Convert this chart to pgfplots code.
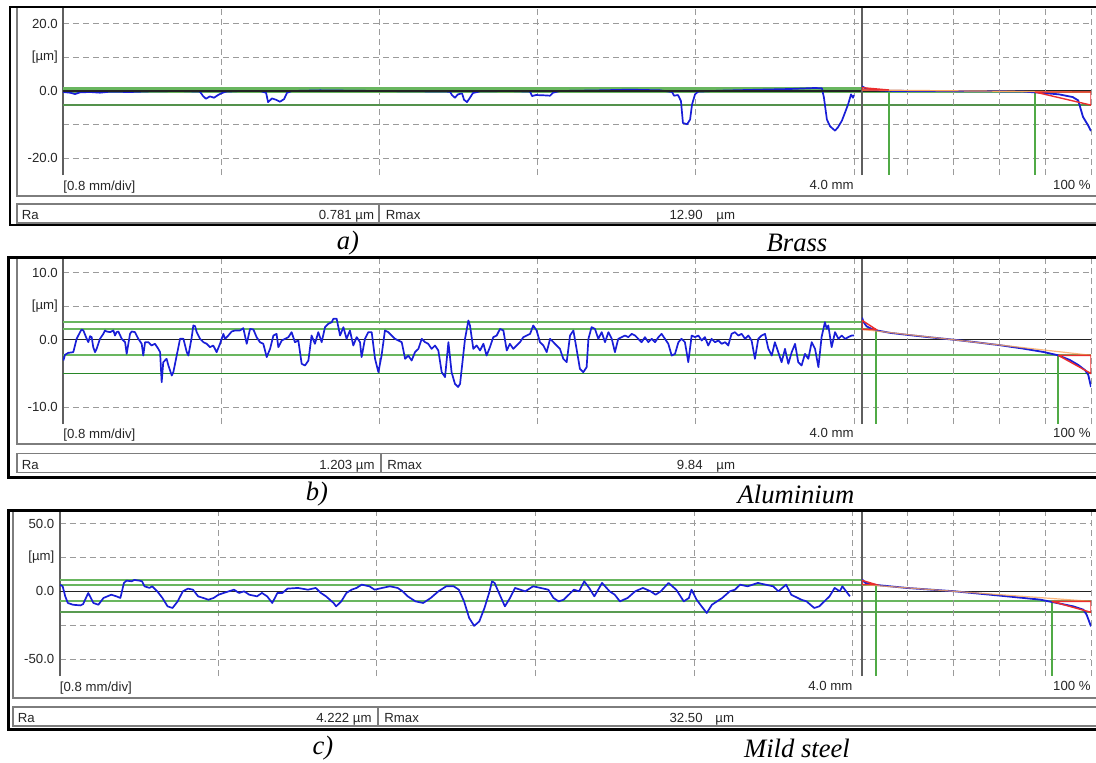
\documentclass[border=0pt]{standalone}
\usepackage{fontspec}
\setmainfont{Liberation Sans}
\newfontfamily\capfont{Liberation Serif}
\usepackage{pgfplots}
\pgfplotsset{compat=1.18}
\definecolor{pblue}{RGB}{25,30,215}
\definecolor{glight}{RGB}{105,182,95}
\definecolor{gvert}{RGB}{80,170,70}
\definecolor{gdark}{RGB}{40,135,40}
\definecolor{gridc}{RGB}{155,155,155}
\definecolor{axc}{RGB}{95,95,95}
\definecolor{boxc}{RGB}{125,125,125}
\definecolor{redc}{RGB}{235,45,45}
\definecolor{orc}{RGB}{250,165,90}
\definecolor{zeroc}{RGB}{35,35,35}
\pgfplotsset{
  baseax/.style={scale only axis, anchor=south west,
    axis y line*=left, axis x line*=bottom,
    x axis line style={draw=none},
    y axis line style={draw=axc,line width=1pt,-},
    xmajorgrids, major tick length=0pt,
    major grid style={draw=gridc,line width=0.5pt,dash pattern=on 3pt off 2pt},
    xticklabels={}, clip=true},
  profax/.style={baseax, ymajorgrids, xmin=0,
    xtick={0.8,1.6,2.4,3.2,4.0},
    yticklabel style={font=\fontsize{6.6}{7}\selectfont,text=black!85,inner sep=0pt,xshift=-2.4pt}},
  bearax/.style={baseax, xmin=0, xmax=100, xtick={20,40,60,80,100}, ytick=\empty},
}
\begin{document}
\begin{tikzpicture}
\useasboundingbox (0,0) rectangle (548pt,-381pt);
% ================= Panel a (Brass) =================
\begin{axis}[profax, at={(31.5pt,-87.5pt)}, width=514pt, height=84pt,
  xmax=5.1985, ymin=-25, ymax=25, ytick={-20,-10,0,10,20},
  yticklabels={-20.0,,0.0,[µm],20.0}]
\addplot[glight,line width=1pt] coordinates {(0,0.8) (4.0405,0.8)};
\addplot[glight,line width=1pt] coordinates {(0,0.3) (4.0405,0.3)};
\addplot[glight,line width=0.8pt] coordinates {(0,-0.3) (5.1985,-0.3)};
\addplot[glight!80!black,line width=0.7pt] coordinates {(0,-4.2) (5.1985,-4.2)};
\addplot[pblue,line width=0.85pt,line join=round] table[row sep=\\] {
x y\\
0.000 -0.3\\ 0.035 -0.5\\ 0.061 -0.9\\ 0.086 -0.4\\ 0.137 -0.3\\ 0.187 -0.5\\
0.238 -0.2\\ 0.339 -0.3\\ 0.440 -0.1\\ 0.592 0.0\\ 0.693 -0.2\\ 0.708 -1.5\\
0.723 -2.3\\ 0.743 -1.6\\ 0.764 -2.0\\ 0.784 -1.2\\ 0.804 -0.6\\ 0.824 -0.2\\
0.895 0.0\\ 0.996 0.0\\ 1.027 -0.5\\ 1.037 -3.3\\ 1.057 -2.2\\ 1.077 -2.6\\
1.097 -3.2\\ 1.118 -2.4\\ 1.133 -0.5\\ 1.158 0.0\\ 1.300 0.2\\ 1.451 0.1\\
1.603 0.0\\ 1.805 -0.1\\ 1.957 -0.2\\ 1.967 -1.2\\ 1.982 -2.0\\ 1.997 -1.0\\
2.018 -0.7\\ 2.028 -2.6\\ 2.043 -3.3\\ 2.058 -2.0\\ 2.073 -0.6\\ 2.109 -0.1\\
2.260 0.0\\ 2.362 -0.2\\ 2.372 -1.5\\ 2.392 -1.2\\ 2.437 -1.3\\ 2.463 -1.4\\
2.478 -0.5\\ 2.513 0.0\\ 2.716 0.2\\ 2.867 0.4\\ 3.019 0.2\\ 3.080 -0.3\\
3.090 -1.4\\ 3.110 -1.2\\ 3.125 -3.0\\ 3.135 -9.5\\ 3.156 -9.9\\ 3.171 -8.5\\
3.181 -4.0\\ 3.196 -1.0\\ 3.211 -0.2\\ 3.322 0.1\\ 3.525 0.4\\ 3.676 0.6\\
3.803 0.9\\ 3.838 0.8\\ 3.848 -2.0\\ 3.863 -8.5\\ 3.879 -10.5\\ 3.904 -11.8\\
3.919 -10.8\\ 3.939 -8.8\\ 3.954 -6.5\\ 3.970 -4.0\\ 3.985 -1.0\\ 3.995 -2.0\\
4.000 -1.2\\
};
\addplot[zeroc,line width=0.6pt] coordinates {(0,0) (5.1985,0)};
\end{axis}
\begin{axis}[bearax, at={(431pt,-87.5pt)}, width=114.5pt, height=84pt, ymin=-25, ymax=25]
\addplot[glight,line width=1pt] coordinates {(0,0.3) (11.8,0.3)};
\addplot[gvert,line width=0.9pt] coordinates {(11.8,0.3) (11.8,-25)};
\addplot[gvert,line width=0.9pt] coordinates {(75.5,-0.3) (75.5,-25)};
\addplot[pblue,line width=0.9pt] coordinates {(0,1.4) (1.5,0.8) (3.5,0.4) (8,0.2) (12,0.05) (30,0.0) (50,-0.05) (70,-0.15) (77.7,-0.5) (86,-1.0) (92,-1.8) (94.4,-2.8) (96.5,-7.7) (98.7,-10.2) (100,-11.9)};
\addplot[orc,line width=0.6pt] coordinates {(0,0.3) (100,-0.3)};
\addplot[redc,line width=0.7pt] coordinates {(0,1.0) (0,0.3) (11.8,0.3) (0,1.0)};
\addplot[redc,line width=0.7pt] coordinates {(75.5,-0.3) (100,-0.3) (100,-4.2) (75.5,-0.3)};
\end{axis}
% ================= Panel b (Aluminium) =================
\begin{axis}[profax, at={(31.5pt,-212pt)}, width=514pt, height=83.5pt,
  xmax=5.1985, ymin=-12.5, ymax=12.3, ytick={-10,-5,0,5,10},
  yticklabels={-10.0,,0.0,[µm],10.0}]
\addplot[glight,line width=1pt] coordinates {(0,2.7) (4.0405,2.7)};
\addplot[glight,line width=1pt] coordinates {(0,1.55) (4.0405,1.55)};
\addplot[glight,line width=0.9pt] coordinates {(0,-2.3) (5.1985,-2.3)};
\addplot[gdark,line width=0.7pt] coordinates {(0,-5.0) (5.1985,-5.0)};
\addplot[zeroc,line width=0.6pt] coordinates {(0,0) (5.1985,0)};
\addplot[pblue,line width=0.85pt,line join=round] table[row sep=\\] {
x y\\
0.002 -3.07\\ 0.010 -2.23\\ 0.027 -1.93\\ 0.052 -1.83\\ 0.069 0.15\\ 0.086 1.14\\
0.094 1.53\\ 0.103 1.39\\ 0.120 0.15\\ 0.128 -0.35\\ 0.137 0.54\\ 0.145 0.40\\
0.153 -1.09\\ 0.162 -1.83\\ 0.170 -1.34\\ 0.187 0.15\\ 0.204 0.89\\ 0.212 1.39\\
0.221 1.24\\ 0.238 1.14\\ 0.255 1.39\\ 0.263 0.64\\ 0.271 1.14\\ 0.280 1.24\\
0.297 0.15\\ 0.314 -0.35\\ 0.322 -2.08\\ 0.339 0.89\\ 0.347 1.24\\ 0.364 1.14\\
0.381 0.15\\ 0.398 -0.59\\ 0.406 -2.33\\ 0.415 -0.35\\ 0.432 -0.35\\ 0.448 -0.84\\
0.465 -0.59\\ 0.482 -1.34\\ 0.491 -1.83\\ 0.499 -6.29\\ 0.507 -3.32\\ 0.524 -2.82\\
0.533 -3.81\\ 0.550 -5.30\\ 0.558 -4.80\\ 0.575 -2.33\\ 0.592 0.15\\ 0.609 0.15\\
0.626 -1.83\\ 0.634 -2.33\\ 0.651 0.40\\ 0.659 2.13\\ 0.668 2.03\\ 0.676 1.14\\
0.693 0.15\\ 0.710 -0.35\\ 0.727 -0.59\\ 0.743 -1.09\\ 0.760 -0.84\\ 0.777 -1.83\\
0.794 -0.59\\ 0.811 0.89\\ 0.819 0.15\\ 0.836 0.64\\ 0.853 1.24\\ 0.870 1.39\\
0.895 1.39\\ 0.912 1.73\\ 0.929 -0.59\\ 0.946 1.63\\ 0.963 1.53\\ 0.979 0.40\\
0.996 -0.35\\ 1.013 -0.59\\ 1.030 -2.57\\ 1.047 -1.34\\ 1.064 0.64\\ 1.080 0.89\\
1.089 -1.09\\ 1.106 -0.10\\ 1.123 0.15\\ 1.140 0.40\\ 1.156 1.14\\ 1.173 -0.35\\
1.190 -0.10\\ 1.207 -3.56\\ 1.224 -3.81\\ 1.241 -3.07\\ 1.257 0.64\\ 1.274 -0.59\\
1.291 1.14\\ 1.308 -0.35\\ 1.325 1.88\\ 1.342 2.38\\ 1.359 2.62\\ 1.367 3.12\\
1.384 3.12\\ 1.401 0.64\\ 1.418 1.88\\ 1.434 0.15\\ 1.451 1.39\\ 1.468 -0.84\\
1.485 0.40\\ 1.502 -0.35\\ 1.510 -2.57\\ 1.527 0.15\\ 1.544 1.14\\ 1.561 1.14\\
1.578 -2.82\\ 1.595 -4.80\\ 1.611 -2.33\\ 1.628 1.39\\ 1.645 1.14\\ 1.662 0.64\\
1.679 0.15\\ 1.696 -0.10\\ 1.713 -0.35\\ 1.730 -2.82\\ 1.746 -2.33\\ 1.763 -3.07\\
1.780 -1.83\\ 1.797 -1.34\\ 1.814 0.15\\ 1.831 -0.35\\ 1.847 -0.59\\ 1.864 -1.34\\
1.881 -0.84\\ 1.898 -1.58\\ 1.915 -4.80\\ 1.932 -5.54\\ 1.949 -0.35\\ 1.965 -4.80\\
1.982 -6.53\\ 1.998 -7.00\\ 2.008 -6.53\\ 2.033 0.15\\ 2.050 2.87\\ 2.058 2.13\\
2.075 -1.34\\ 2.092 -0.84\\ 2.109 -1.58\\ 2.126 -0.59\\ 2.142 -2.33\\ 2.159 -1.09\\
2.176 0.40\\ 2.193 0.64\\ 2.210 1.63\\ 2.227 1.39\\ 2.244 -1.58\\ 2.260 -0.59\\
2.277 -1.34\\ 2.294 -0.84\\ 2.311 -0.35\\ 2.328 0.40\\ 2.345 0.64\\ 2.362 0.89\\
2.378 2.13\\ 2.395 1.39\\ 2.412 -0.35\\ 2.429 -0.84\\ 2.446 -1.83\\ 2.463 0.15\\
2.480 -0.35\\ 2.496 -0.84\\ 2.513 -1.34\\ 2.530 -2.82\\ 2.547 -3.32\\ 2.564 0.64\\
2.581 1.39\\ 2.597 -1.34\\ 2.614 -4.31\\ 2.631 -4.80\\ 2.648 -4.06\\ 2.657 0.15\\
2.673 1.88\\ 2.690 1.63\\ 2.707 0.15\\ 2.724 1.14\\ 2.741 -0.35\\ 2.758 1.14\\
2.775 0.15\\ 2.791 -1.83\\ 2.808 0.15\\ 2.825 0.40\\ 2.842 0.64\\ 2.859 0.40\\
2.876 0.89\\ 2.893 0.64\\ 2.909 0.15\\ 2.926 -0.35\\ 2.943 0.40\\ 2.960 -0.35\\
2.977 0.15\\ 2.994 -0.35\\ 3.011 0.40\\ 3.027 0.89\\ 3.044 0.15\\ 3.061 -0.59\\
3.078 -2.33\\ 3.095 -2.08\\ 3.112 -0.35\\ 3.128 0.15\\ 3.145 -0.35\\ 3.162 -3.32\\
3.179 0.64\\ 3.196 0.40\\ 3.213 0.64\\ 3.230 -0.10\\ 3.246 0.40\\ 3.263 -0.84\\
3.280 0.15\\ 3.297 -0.35\\ 3.314 -0.10\\ 3.331 -0.59\\ 3.348 -0.35\\ 3.364 -0.84\\
3.381 0.89\\ 3.398 1.14\\ 3.415 0.64\\ 3.432 0.89\\ 3.449 0.15\\ 3.466 0.64\\
3.482 -0.10\\ 3.499 -2.82\\ 3.516 0.15\\ 3.533 0.64\\ 3.550 0.89\\ 3.567 -1.34\\
3.584 -2.33\\ 3.600 -0.35\\ 3.617 -1.83\\ 3.634 -3.32\\ 3.651 -1.34\\ 3.668 -3.56\\
3.685 -1.83\\ 3.702 -0.59\\ 3.718 -3.32\\ 3.735 -3.81\\ 3.752 -2.08\\ 3.769 -2.82\\
3.786 -0.35\\ 3.803 -1.34\\ 3.820 -4.06\\ 3.836 0.40\\ 3.853 2.62\\ 3.862 1.63\\
3.870 2.13\\ 3.887 -1.09\\ 3.904 1.14\\ 3.921 0.15\\ 3.938 0.64\\ 3.955 0.15\\
3.971 0.40\\ 3.988 0.64\\ 4.000 0.64\\
};
\end{axis}
\begin{axis}[bearax, at={(431pt,-212pt)}, width=114.5pt, height=83.5pt, ymin=-12.5, ymax=12.3]
\addplot[glight,line width=1pt] coordinates {(0,1.55) (6.1,1.55)};
\addplot[gvert,line width=0.9pt] coordinates {(6.1,1.55) (6.1,-12.5)};
\addplot[gvert,line width=0.9pt] coordinates {(85.7,-2.3) (85.7,-12.5)};
\addplot[pblue,line width=0.9pt] coordinates {(0,3.3) (0.6,2.7) (2,2.0) (4.9,1.5) (12.2,1.04) (19.5,0.75) (30.4,0.35) (40.6,0) (50.8,-0.4) (60.3,-0.8) (70.4,-1.3) (79.2,-1.8) (85.7,-2.3) (90.8,-3.0) (94.5,-3.75) (97.4,-4.5) (98.8,-5.2) (100,-7.0)};
\addplot[orc,line width=0.6pt,opacity=0.8] coordinates {(0,1.55) (100,-2.3)};
\addplot[redc,line width=0.7pt] coordinates {(0,2.9) (0,1.55) (6.1,1.55) (0,2.9)};
\addplot[redc,line width=0.7pt] coordinates {(85.7,-2.3) (100,-2.3) (100,-5.0) (85.7,-2.3)};
\end{axis}
% ================= Panel c (Mild steel) =================
\begin{axis}[profax, at={(29.75pt,-338pt)}, width=515.75pt, height=83pt,
  xmax=5.2017, ymin=-62.5, ymax=60, ytick={-50,-25,0,25,50},
  yticklabels={-50.0,,0.0,[µm],50.0}]
\addplot[glight,line width=1pt] coordinates {(0,8.1) (4.0469,8.1)};
\addplot[glight,line width=1pt] coordinates {(0,5.0) (4.0469,5.0)};
\addplot[glight,line width=0.9pt] coordinates {(0,-7.4) (5.2017,-7.4)};
\addplot[glight!85!black,line width=0.9pt] coordinates {(0,-15.5) (5.2017,-15.5)};
\addplot[zeroc,line width=0.6pt] coordinates {(0,0) (5.2017,0)};
\addplot[pblue,line width=0.85pt,line join=round] table[row sep=\\] {
x y\\
0.003 4.9\\ 0.016 3.7\\ 0.029 -3.7\\ 0.042 -8.6\\ 0.068 -9.9\\ 0.106 -10.4\\
0.119 -9.4\\ 0.145 -1.2\\ 0.171 -8.6\\ 0.196 -9.9\\ 0.222 -4.9\\ 0.261 -2.5\\
0.287 -3.7\\ 0.307 -4.9\\ 0.325 6.2\\ 0.338 7.9\\ 0.364 7.4\\ 0.377 8.4\\
0.403 7.9\\ 0.416 7.4\\ 0.429 3.7\\ 0.454 2.5\\ 0.467 3.7\\ 0.493 0.0\\
0.519 -4.9\\ 0.545 -11.1\\ 0.570 -12.3\\ 0.596 -7.4\\ 0.622 0.0\\ 0.648 2.0\\
0.673 1.2\\ 0.699 -3.7\\ 0.725 -4.9\\ 0.751 -6.2\\ 0.777 -4.9\\ 0.802 -2.5\\
0.828 -1.2\\ 0.880 1.2\\ 0.905 -1.2\\ 0.931 0.0\\ 0.957 -2.5\\ 0.996 -3.7\\
1.021 -1.2\\ 1.047 -3.7\\ 1.073 -8.6\\ 1.099 -1.2\\ 1.124 -1.2\\ 1.150 2.0\\
1.202 2.5\\ 1.253 1.2\\ 1.292 2.5\\ 1.318 -1.2\\ 1.344 -3.7\\ 1.382 -8.6\\
1.395 -11.1\\ 1.421 -7.4\\ 1.447 -1.2\\ 1.473 1.2\\ 1.498 2.5\\ 1.524 4.9\\
1.563 3.7\\ 1.589 1.2\\ 1.627 2.5\\ 1.666 3.7\\ 1.705 2.5\\ 1.730 0.0\\
1.756 -3.7\\ 1.795 -7.4\\ 1.834 -8.6\\ 1.872 -4.9\\ 1.911 0.0\\ 1.950 3.7\\
1.988 3.7\\ 2.014 1.2\\ 2.040 -7.4\\ 2.066 -19.7\\ 2.091 -25.5\\ 2.117 -22.2\\
2.143 -12.3\\ 2.169 0.0\\ 2.181 7.4\\ 2.194 6.2\\ 2.220 -2.5\\ 2.246 -11.1\\
2.272 -4.9\\ 2.297 2.5\\ 2.323 1.2\\ 2.349 0.0\\ 2.388 3.7\\ 2.426 2.5\\
2.465 1.2\\ 2.491 -4.9\\ 2.517 -7.4\\ 2.542 -6.2\\ 2.568 -2.5\\ 2.594 1.2\\
2.620 0.0\\ 2.646 7.4\\ 2.671 2.5\\ 2.697 -3.7\\ 2.736 6.2\\ 2.774 0.0\\
2.800 -2.5\\ 2.826 -7.4\\ 2.865 -4.9\\ 2.903 0.0\\ 2.942 2.5\\ 2.981 0.0\\
3.006 -2.5\\ 3.032 0.0\\ 3.071 6.2\\ 3.110 1.2\\ 3.148 -7.4\\ 3.174 -4.9\\
3.187 1.2\\ 3.213 -6.2\\ 3.238 -11.1\\ 3.264 -16.0\\ 3.290 -9.9\\ 3.316 -7.4\\
3.342 -4.9\\ 3.380 0.0\\ 3.406 1.2\\ 3.432 4.9\\ 3.470 3.7\\ 3.522 6.2\\
3.561 4.9\\ 3.599 3.7\\ 3.625 0.0\\ 3.664 4.9\\ 3.690 -2.5\\ 3.741 -6.2\\
3.767 -7.4\\ 3.806 -12.3\\ 3.831 -11.1\\ 3.857 -7.4\\ 3.883 -3.7\\ 3.909 2.5\\
3.935 0.0\\ 3.948 3.7\\ 3.973 -1.2\\ 3.986 -3.7\\
};
\end{axis}
\begin{axis}[bearax, at={(431pt,-338pt)}, width=114.5pt, height=83pt, ymin=-62.5, ymax=60]
\addplot[glight,line width=1pt] coordinates {(0,5.0) (6.1,5.0)};
\addplot[gvert,line width=0.9pt] coordinates {(6.1,5.0) (6.1,-62.5)};
\addplot[gvert,line width=0.9pt] coordinates {(82.8,-7.4) (82.8,-62.5)};
\addplot[pblue,line width=0.9pt] coordinates {(0,8.7) (1.5,6.2) (6.1,4.7) (19.5,2.5) (40.6,0) (60.3,-3.2) (77.7,-6.1) (83.6,-8.1) (92.3,-11.1) (96.7,-13.6) (98.1,-17.3) (100,-25.9)};
\addplot[orc,line width=0.6pt,opacity=0.8] coordinates {(0,5.0) (100,-7.4)};
\addplot[redc,line width=0.7pt] coordinates {(0,8.1) (0,5.0) (6.1,5.0) (0,8.1)};
\addplot[redc,line width=0.7pt] coordinates {(82.8,-7.4) (100,-7.4) (100,-15.5) (82.8,-7.4)};
\end{axis}
% ================= Frames and texts =================
\begin{scope}[x=0.5pt,y=-0.5pt, every node/.style={inner sep=0pt, font=\fontsize{6.6}{7}\selectfont, text=black!85}]
% panel a
\draw[boxc,line width=0.9pt] (16.7,7) -- (16.7,196) -- (1100,196);
\draw[boxc,line width=0.8pt] (1100,204) -- (16.7,204) -- (16.7,223) -- (1100,223);
\draw[boxc,line width=0.8pt] (379,204) -- (379,223);
\draw[black,line width=1.3pt] (1100,7) -- (10,7) -- (10,225) -- (1100,225);
\node[anchor=base west] at (63,190.5) {[0.8 mm/div]};
\node[anchor=base east] at (854,189.5) {4.0 mm};
\node[anchor=base east] at (1091,189.5) {100 \%};
\node[anchor=base west] at (21.5,219.5) {Ra};
\node[anchor=base east] at (374.5,219.5) {0.781 µm};
\node[anchor=base west] at (385.5,219.5) {Rmax};
\node[anchor=base east] at (703,219.5) {12.90};
\node[anchor=base west] at (716,219.5) {µm};
% panel b
\draw[boxc,line width=0.9pt] (16.7,257) -- (16.7,444) -- (1100,444);
\draw[boxc,line width=0.8pt] (1100,453.3) -- (16.7,453.3) -- (16.7,472.3) -- (1100,472.3);
\draw[boxc,line width=0.8pt] (380.7,453.3) -- (380.7,472.3);
\draw[black,line width=1.3pt] (1100,257.3) -- (8.5,257.3) -- (8.5,477.3) -- (1100,477.3);
\node[anchor=base west] at (63,438) {[0.8 mm/div]};
\node[anchor=base east] at (854,437.3) {4.0 mm};
\node[anchor=base east] at (1091,437.3) {100 \%};
\node[anchor=base west] at (21.5,469) {Ra};
\node[anchor=base east] at (375,469) {1.203 µm};
\node[anchor=base west] at (387,469) {Rmax};
\node[anchor=base east] at (703,469) {9.84};
\node[anchor=base west] at (716,469) {µm};
% panel c
\draw[boxc,line width=0.9pt] (12.7,510.7) -- (12.7,698.3) -- (1100,698.3);
\draw[boxc,line width=0.8pt] (1100,706.7) -- (12.7,706.7) -- (12.7,725.7) -- (1100,725.7);
\draw[boxc,line width=0.8pt] (377.7,706.7) -- (377.7,725.7);
\draw[black,line width=1.3pt] (1100,510.7) -- (8.5,510.7) -- (8.5,729.3) -- (1100,729.3);
\node[anchor=base west] at (59.5,691.5) {[0.8 mm/div]};
\node[anchor=base east] at (852.7,690.7) {4.0 mm};
\node[anchor=base east] at (1091,690.7) {100 \%};
\node[anchor=base west] at (17.5,722.3) {Ra};
\node[anchor=base east] at (372,722.3) {4.222 µm};
\node[anchor=base west] at (384,722.3) {Rmax};
\node[anchor=base east] at (703,722.3) {32.50};
\node[anchor=base west] at (715,722.3) {µm};
% captions
\begin{scope}[every node/.style={inner sep=0pt, font=\capfont\itshape\fontsize{13.3}{15}\selectfont, text=black}]
\node at (348,243) {a)};
\node at (797,243) {Brass};
\node at (317,494) {b)};
\node at (796,494) {Aluminium};
\node at (323,748) {c)};
\node at (797,748) {Mild steel};
\end{scope}
\end{scope}
\end{tikzpicture}
\end{document}
